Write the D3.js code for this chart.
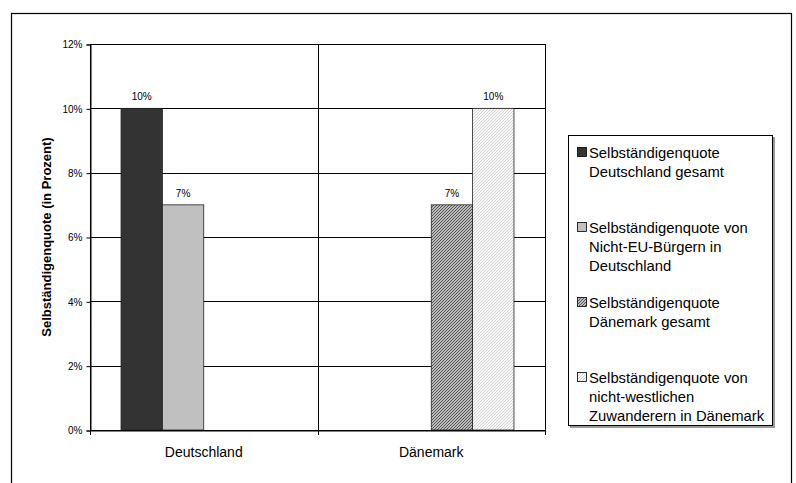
<!DOCTYPE html>
<html>
<head>
<meta charset="utf-8">
<script src="https://cdn.jsdelivr.net/npm/d3@7"></script>
<style>
  html, body { margin: 0; padding: 0; background: #fff; }
  svg { display: block; font-family: "Liberation Sans", Arial, sans-serif; }
</style>
</head>
<body>
<svg id="chart" width="796" height="483"></svg>
<script>
// Categories and series
const categories = ["Deutschland", "Dänemark"];
const seriesLabels = [
  ["Selbständigenquote", "Deutschland gesamt"],
  ["Selbständigenquote von", "Nicht-EU-Bürgern in", "Deutschland"],
  ["Selbständigenquote", "Dänemark gesamt"],
  ["Selbständigenquote von", "nicht-westlichen", "Zuwanderern in Dänemark"]
];
// Values in percent per category (null = no bar)
const deGesamt = [10, null];
const deNichtEU = [7, null];
const dkGesamt = [null, 7];
const dkNichtWestlich = [null, 10];
const yTicks = [0, 2, 4, 6, 8, 10, 12];

const series = [deGesamt, deNichtEU, dkGesamt, dkNichtWestlich];
const fills = ["#333333", "#c0c0c0", "url(#hatchDark)", "url(#hatchLight)"];

const svg = d3.select("#chart");

// Fine diagonal hatch patterns
const defs = svg.append("defs");
const p1 = defs.append("pattern").attr("id", "hatchDark")
  .attr("patternUnits", "userSpaceOnUse").attr("width", 3).attr("height", 3);
p1.append("rect").attr("width", 3).attr("height", 3).attr("fill", "#bababa");
p1.append("path").attr("d", "M-1,1 L1,-1 M0,3 L3,0 M2,4 L4,2")
  .attr("stroke", "#444").attr("stroke-width", 0.85);
const p2 = defs.append("pattern").attr("id", "hatchLight")
  .attr("patternUnits", "userSpaceOnUse").attr("width", 3).attr("height", 3);
p2.append("rect").attr("width", 3).attr("height", 3).attr("fill", "#f8f8f8");
p2.append("path").attr("d", "M-1,1 L1,-1 M0,3 L3,0 M2,4 L4,2")
  .attr("stroke", "#cfcfcf").attr("stroke-width", 0.9);

// Outer frame
svg.append("rect").attr("x", 11.5).attr("y", 13.5).attr("width", 780).attr("height", 480)
  .attr("fill", "none").attr("stroke", "#000").attr("stroke-width", 1.2);

const plot = { left: 90, right: 545, top: 44, bottom: 430 };

const x0 = d3.scaleBand().domain(categories).range([plot.left, plot.right]).padding(0);
const x1 = d3.scaleBand().domain(d3.range(series.length)).range([0, x0.bandwidth()])
  .paddingInner(0).paddingOuter(0.75);
const y = d3.scaleLinear().domain([0, 12]).range([plot.bottom, plot.top]);

// Horizontal gridlines
svg.append("g").selectAll("line").data(yTicks).join("line")
  .attr("x1", plot.left).attr("x2", plot.right)
  .attr("y1", d => Math.round(y(d)) + 0.5).attr("y2", d => Math.round(y(d)) + 0.5)
  .attr("stroke", "#000").attr("stroke-width", 1);

// Category separators (full-height vertical lines with ticks below the axis)
const bounds = [plot.left, ...categories.slice(1).map(c => x0(c)), plot.right];
svg.append("g").selectAll("line").data(bounds).join("line")
  .attr("x1", d => Math.round(d) + 0.5).attr("x2", d => Math.round(d) + 0.5)
  .attr("y1", plot.top).attr("y2", plot.bottom + 5)
  .attr("stroke", "#000").attr("stroke-width", 1);

// Bars and value labels
series.forEach((vals, si) => {
  const pts = categories.map((c, ci) => ({ c, v: vals[ci] })).filter(d => d.v != null);
  svg.append("g").selectAll("rect").data(pts).join("rect")
    .attr("x", d => x0(d.c) + x1(si))
    .attr("y", d => y(d.v))
    .attr("width", x1.bandwidth())
    .attr("height", d => y(0) - y(d.v))
    .attr("fill", fills[si])
    .attr("stroke", "#222").attr("stroke-width", 0.8);
  svg.append("g").selectAll("text").data(pts).join("text")
    .attr("x", d => x0(d.c) + x1(si) + x1.bandwidth() / 2)
    .attr("y", d => y(d.v) - 8)
    .attr("text-anchor", "middle")
    .attr("font-size", 10).attr("fill", "#000")
    .text(d => d.v + "%");
});

// Y axis
const yAxis = d3.axisLeft(y).tickValues(yTicks).tickSize(4).tickPadding(4)
  .tickFormat(d => d + "%");
const gy = svg.append("g").attr("transform", `translate(${plot.left + 0.5},0.5)`).call(yAxis);
gy.select(".domain").attr("stroke", "#000");
gy.selectAll(".tick line").attr("stroke", "#000");
gy.selectAll(".tick text").attr("font-size", 10).attr("fill", "#000")
  .attr("font-family", "Liberation Sans, Arial, sans-serif");

// X axis labels
const xAxis = d3.axisBottom(x0).tickSize(0).tickPadding(17);
const gx = svg.append("g").attr("transform", `translate(0,${plot.bottom + 0.5})`).call(xAxis);
gx.select(".domain").attr("stroke", "#000");
gx.selectAll(".tick text").attr("font-size", 14).attr("fill", "#000")
  .attr("font-family", "Liberation Sans, Arial, sans-serif");

// Y axis title
svg.append("text")
  .attr("transform", `translate(51,${(plot.top + plot.bottom) / 2}) rotate(-90)`)
  .attr("text-anchor", "middle")
  .attr("font-size", 13).attr("font-weight", "bold")
  .text("Selbständigenquote (in Prozent)");

// Legend
const lg = svg.append("g");
lg.append("rect").attr("x", 570).attr("y", 137).attr("width", 205).attr("height", 291)
  .attr("fill", "#999");
lg.append("rect").attr("x", 568.5).attr("y", 135.5).attr("width", 204).attr("height", 290)
  .attr("fill", "#fff").attr("stroke", "#000").attr("stroke-width", 1);
const entryY = [153, 228, 303, 378];
seriesLabels.forEach((lines, i) => {
  lg.append("rect").attr("x", 577.5).attr("y", entryY[i] - 5.5)
    .attr("width", 9).attr("height", 9)
    .attr("fill", fills[i]).attr("stroke", "#000").attr("stroke-width", 0.8);
  const t = lg.append("text").attr("font-size", 14.8).attr("fill", "#000");
  lines.forEach((s, j) => {
    t.append("tspan").attr("x", 589).attr("y", entryY[i] + 5 + j * 19).text(s);
  });
});
</script>
</body>
</html>
